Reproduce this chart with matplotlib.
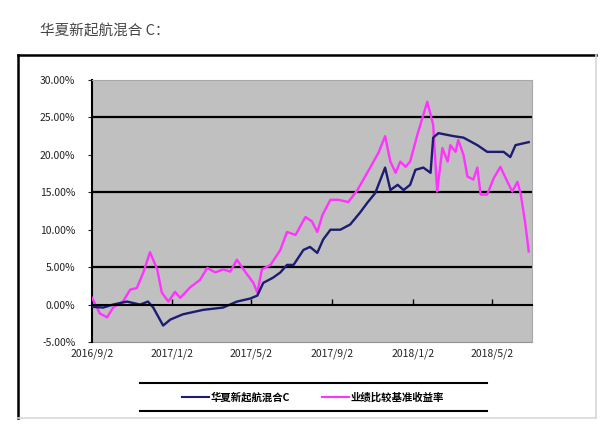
import numpy as np
import pandas as pd
import matplotlib
matplotlib.use('Agg')
import matplotlib.pyplot as plt
import matplotlib.dates as mdates
from matplotlib.lines import Line2D
from matplotlib.ticker import FuncFormatter, MultipleLocator

plt.rcParams['font.family'] = ['Noto Sans CJK SC', 'DejaVu Sans']
plt.rcParams['axes.unicode_minus'] = False

title = '华夏新起航混合 C：'
fund_name = '华夏新起航混合C'
bench_name = '业绩比较基准收益率'

fund_dates = ['2016-09-02', '2016-09-19', '2016-10-04', '2016-10-25', '2016-11-14',
              '2016-11-26', '2016-12-04', '2016-12-19', '2016-12-30', '2017-01-18',
              '2017-02-18', '2017-03-20', '2017-04-10', '2017-04-30', '2017-05-11',
              '2017-05-20', '2017-06-04', '2017-06-15', '2017-06-25', '2017-07-05',
              '2017-07-20', '2017-07-30', '2017-08-10', '2017-08-19', '2017-08-30',
              '2017-09-14', '2017-09-29', '2017-10-14', '2017-10-25', '2017-11-06',
              '2017-11-21', '2017-11-29', '2017-12-10', '2017-12-19', '2017-12-29',
              '2018-01-06', '2018-01-18', '2018-01-29', '2018-02-02', '2018-02-10',
              '2018-03-05', '2018-03-20', '2018-04-10', '2018-04-25', '2018-05-20',
              '2018-05-30', '2018-06-07', '2018-06-27']
fund_ret = [-0.3, -0.4, 0.0, 0.4, 0.0,
            0.4, -0.4, -2.8, -2.0, -1.3,
            -0.7, -0.4, 0.4, 0.8, 1.2,
            2.9, 3.6, 4.3, 5.3, 5.3,
            7.3, 7.7, 6.9, 8.7, 10.0,
            10.0, 10.7, 12.3, 13.6, 14.9,
            18.3, 15.3, 16.0, 15.3, 16.0,
            18.0, 18.3, 17.6, 22.3, 22.9,
            22.5, 22.3, 21.3, 20.4, 20.4,
            19.7, 21.3, 21.7]

bench_dates = ['2016-09-02', '2016-09-14', '2016-09-25', '2016-10-04', '2016-10-19',
               '2016-10-30', '2016-11-09', '2016-11-19', '2016-11-29', '2016-12-10',
               '2016-12-17', '2016-12-27', '2017-01-06', '2017-01-14', '2017-01-29',
               '2017-02-13', '2017-02-24', '2017-03-08', '2017-03-20', '2017-03-31',
               '2017-04-10', '2017-04-20', '2017-05-05', '2017-05-11', '2017-05-18',
               '2017-05-31', '2017-06-15', '2017-06-25', '2017-07-08', '2017-07-23',
               '2017-08-02', '2017-08-10', '2017-08-18', '2017-08-30', '2017-09-11',
               '2017-09-26', '2017-10-10', '2017-10-19', '2017-10-30', '2017-11-11',
               '2017-11-21', '2017-11-29', '2017-12-07', '2017-12-14', '2017-12-22',
               '2017-12-29', '2018-01-09', '2018-01-24', '2018-02-02', '2018-02-08',
               '2018-02-16', '2018-02-24', '2018-02-28', '2018-03-08', '2018-03-12',
               '2018-03-20', '2018-03-26', '2018-04-04', '2018-04-10', '2018-04-15',
               '2018-04-25', '2018-05-05', '2018-05-15', '2018-05-23', '2018-06-02',
               '2018-06-10', '2018-06-15', '2018-06-22', '2018-06-27']
bench_ret = [0.9, -1.2, -1.7, -0.4, 0.4,
             2.0, 2.2, 4.3, 7.0, 4.7,
             1.6, 0.4, 1.7, 0.9, 2.3,
             3.3, 4.9, 4.3, 4.7, 4.4,
             6.0, 4.7, 2.9, 1.6, 4.7,
             5.3, 7.3, 9.7, 9.3, 11.7,
             11.1, 9.7, 12.0, 14.0, 14.0,
             13.7, 15.3, 16.7, 18.4, 20.3,
             22.5, 19.1, 17.6, 19.1, 18.4,
             19.1, 22.7, 27.1, 24.0, 15.1,
             20.9, 19.1, 21.3, 20.4, 22.0,
             20.0, 17.1, 16.7, 18.3, 14.7,
             14.7, 16.9, 18.4, 16.9, 15.1,
             16.4, 14.7, 10.7, 7.1]

tick_dates = ['2016-09-02', '2017-01-02', '2017-05-02', '2017-09-02', '2018-01-02', '2018-05-02']
tick_labels = ['2016/9/2', '2017/1/2', '2017/5/2', '2017/9/2', '2018/1/2', '2018/5/2']

fig = plt.figure(figsize=(6.08, 4.34), dpi=100)
fig.patch.set_facecolor('white')

fig.text(40 / 608, 1 - 31 / 434, title, fontsize=10.5, color='#444444', va='center', ha='left')

# outer chart frame
fig.add_artist(Line2D([18 / 608, 18 / 608], [1 - 55 / 434, 1 - 418 / 434], color='black', lw=1.8))
fig.add_artist(Line2D([18 / 608, 596 / 608], [1 - 55 / 434, 1 - 55 / 434], color='black', lw=1.8))
fig.add_artist(Line2D([596 / 608, 596 / 608], [1 - 55 / 434, 1 - 418 / 434], color='#d8d8d8', lw=1.2))
fig.add_artist(Line2D([18 / 608, 596 / 608], [1 - 418 / 434, 1 - 418 / 434], color='#d8d8d8', lw=1.2))

ax = fig.add_axes([92 / 608, 1 - 342 / 434, 440 / 608, 262 / 434])
ax.set_facecolor('#c0c0c0')

fd = pd.to_datetime(fund_dates)
bd = pd.to_datetime(bench_dates)
ax.plot(bd, bench_ret, color='#ff33ff', lw=1.7, zorder=3)
ax.plot(fd, fund_ret, color='#1c1c72', lw=1.7, zorder=4)

ax.set_ylim(-5, 30)
ax.set_xlim(pd.Timestamp('2016-09-02'), pd.Timestamp('2018-07-02'))

# gridlines every 10 starting from -5
for g in [5, 15, 25]:
    ax.axhline(g, color='black', lw=1.6, zorder=2)

ax.yaxis.set_major_locator(MultipleLocator(5))
ax.yaxis.set_major_formatter(FuncFormatter(lambda v, p: '%.2f%%' % v))
ax.tick_params(axis='y', direction='out', length=3, labelsize=7.5, colors='#222222', pad=9)

# x axis sits at 0, labels at the bottom
ax.spines['bottom'].set_position(('data', 0))
ax.spines['bottom'].set_linewidth(1.5)
ax.spines['bottom'].set_zorder(5)
ax.set_xticks(pd.to_datetime(tick_dates))
ax.tick_params(axis='x', direction='in', length=4, width=1, labelbottom=False)
ax.spines['left'].set_linewidth(1.5)
ax.spines['top'].set_color('#a8a8a8')
ax.spines['right'].set_color('#a8a8a8')

sec = ax.secondary_xaxis(0)
sec.set_xticks(pd.to_datetime(tick_dates))
sec.set_xticklabels(tick_labels)
sec.tick_params(length=0, labelsize=7.5, pad=5, colors='#222222')
sec.spines['bottom'].set_color('#909090')

# legend with top/bottom rules
fig.add_artist(Line2D([140 / 608, 487 / 608], [1 - 383 / 434, 1 - 383 / 434], color='black', lw=1.5))
fig.add_artist(Line2D([140 / 608, 487 / 608], [1 - 411 / 434, 1 - 411 / 434], color='black', lw=1.5))
handles = [Line2D([], [], color='#1c1c72', lw=1.5), Line2D([], [], color='#ff33ff', lw=1.5)]
fig.legend(handles, [fund_name, bench_name], loc='center', bbox_to_anchor=(313 / 608, 1 - 397 / 434),
           ncol=2, frameon=False, prop={'size': 7.5, 'weight': 'bold'},
           handlelength=2.6, handletextpad=0.2, columnspacing=3.0)

fig.savefig('out.png', dpi=100)
